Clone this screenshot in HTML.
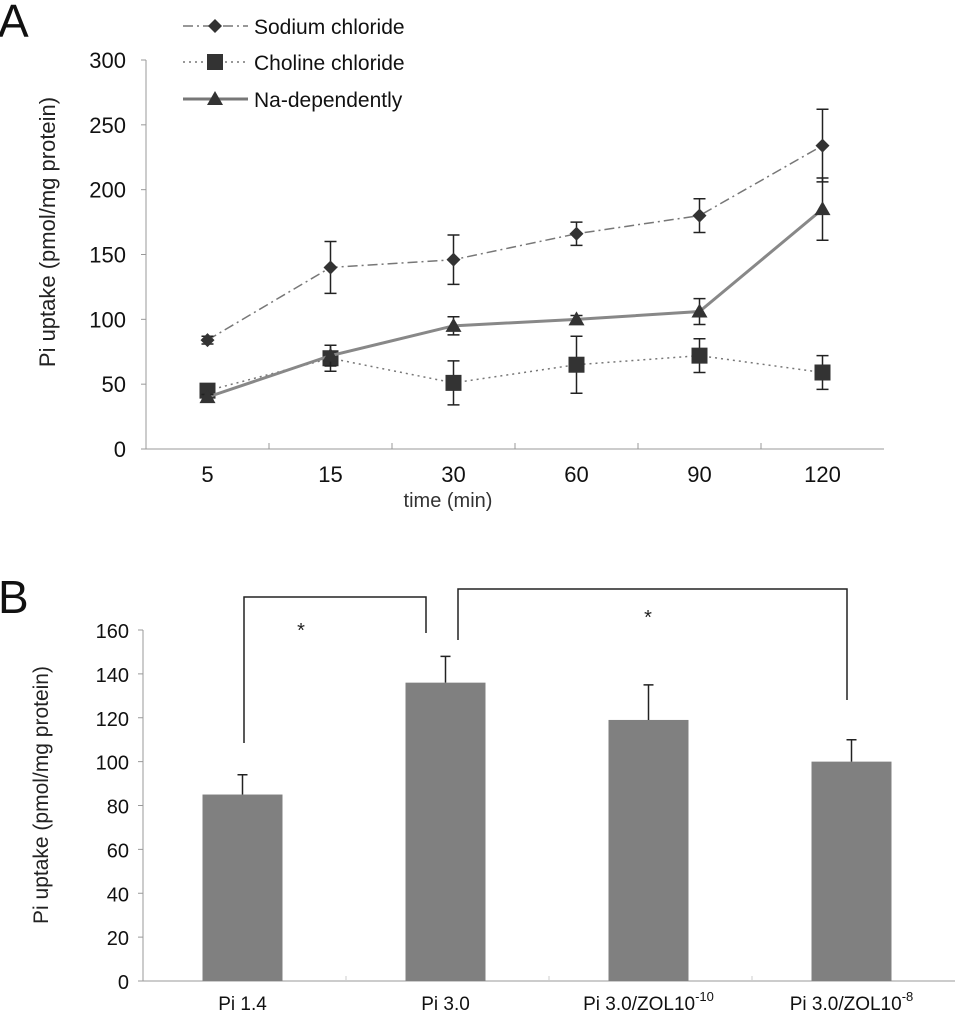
<!DOCTYPE html>
<html><head><meta charset="utf-8"><style>
body{margin:0;background:#fff;}
svg{display:block;font-family:"Liberation Sans",sans-serif;}
</style></head><body>
<svg id="chart" width="955" height="1016" viewBox="0 0 955 1016">
<text x="-2" y="37" font-size="46" fill="#111">A</text>
<text x="-2" y="613" font-size="46" fill="#111">B</text>
<g id="pa"></g>
<g id="pb"></g>
</svg>
<script>
const timeCats=["5","15","30","60","90","120"];
const sodium=[84,140,146,166,180,234];
const sodiumErr=[3,20,19,9,13,28];
const choline=[45,70,51,65,72,59];
const cholineErr=[2,10,17,22,13,13];
const naDep=[40,72,95,100,106,185];
const naDepErr=[2,8,7,3,10,24];
const aTicks=[0,50,100,150,200,250,300];

const barCats=["Pi 1.4","Pi 3.0","Pi 3.0/ZOL10","Pi 3.0/ZOL10"];
const barSup=["","","-10","-8"];
const barVals=[85,136,119,100];
const barErr=[9,12,16,10];
const bTicks=[0,20,40,60,80,100,120,140,160];

const NS="http://www.w3.org/2000/svg";
function mk(parent,tag,attrs){const e=document.createElementNS(NS,tag);for(const k in attrs)e.setAttribute(k,attrs[k]);parent.appendChild(e);return e;}

// Panel A
const pa=document.getElementById('pa');
const aX0=146,aX1=884,aY0=449,aYt=60;
const aStep=(aX1-aX0)/timeCats.length;
const ax=i=>aX0+aStep*(i+0.5);
const ay=v=>aY0-(v/300)*(aY0-aYt);
let l=mk(pa,'line',{x1:aX0,y1:aYt,x2:aX0,y2:aY0,stroke:'#999','stroke-width':1});

l=mk(pa,'line',{x1:aX0,y1:aY0,x2:aX1,y2:aY0,stroke:'#999','stroke-width':1});

aTicks.forEach(t=>{
 mk(pa,'line',{x1:aX0-5,y1:ay(t),x2:aX0,y2:ay(t),stroke:'#999'});
 const tx=mk(pa,'text',{x:aX0-20,y:ay(t)+8,'text-anchor':'end','font-size':22,fill:'#111'});tx.textContent=t;
 
});
for(let i=1;i<timeCats.length;i++)mk(pa,'line',{x1:aX0+aStep*i,y1:aY0,x2:aX0+aStep*i,y2:aY0-6,stroke:'#999'});
timeCats.forEach((c,i)=>{const tx=mk(pa,'text',{x:ax(i),y:482,'text-anchor':'middle','font-size':22,fill:'#111'});tx.textContent=c;
 });
let t=mk(pa,'text',{x:448,y:507,'text-anchor':'middle','font-size':20,fill:'#333'});t.textContent='time  (min)';

t=mk(pa,'text',{x:0,y:0,'text-anchor':'middle','font-size':22,fill:'#222',transform:'translate(55,232) rotate(-90)'});t.textContent='Pi uptake  (pmol/mg protein)';


function marker(g,type,x,y){
 if(type==='d')return mk(g,'polygon',{points:`${x},${y-7} ${x+7},${y} ${x},${y+7} ${x-7},${y}`,fill:'#333'});
 if(type==='s')return mk(g,'rect',{x:x-8,y:y-8,width:16,height:16,fill:'#333'});
 return mk(g,'polygon',{points:`${x},${y-8} ${x+8},${y+6} ${x-8},${y+6}`,fill:'#333'});
}
function series(vals,errs,name,type,dash,color,w){
 const g=mk(pa,'g',{});
 mk(g,'polyline',{points:vals.map((v,i)=>ax(i)+','+ay(v)).join(' '),fill:'none',stroke:color,'stroke-width':w,'stroke-dasharray':dash});
 vals.forEach((v,i)=>{const x=ax(i);const a=ay(v+errs[i]),b=ay(v-errs[i]);
  mk(g,'path',{d:`M${x},${a}V${b}M${x-6},${a}H${x+6}M${x-6},${b}H${x+6}`,stroke:'#222','stroke-width':1.5,fill:'none'});
  const m=marker(g,type,x,ay(v));});
}
series(sodium,sodiumErr,'sodium-chloride-series','d','10,4,2,4','#777',1.5);
series(choline,cholineErr,'choline-chloride-series','s','2,4','#777',1.5);
series(naDep,naDepErr,'na-dependently-series','t','','#888',3);
[['Sodium chloride','d','10,4,2,4',1.5,26],['Choline chloride','s','2,4',1.5,62],['Na-dependently','t','',3,99]].forEach((e,i)=>{
 const g=mk(pa,'g',{});
 mk(g,'line',{x1:183,y1:e[4],x2:248,y2:e[4],stroke:'#777','stroke-width':e[3],'stroke-dasharray':e[2]});
 marker(g,e[1],215,e[4]);
 const tx=mk(g,'text',{x:254,y:e[4]+8,'font-size':21,fill:'#111'});tx.textContent=e[0];
});

// Panel B
const pb=document.getElementById('pb');
const bX0=143,bX1=955,bY0=981,bYt=630;
const bStep=(bX1-bX0)/barCats.length;
const bx=i=>bX0+bStep*(i+0.5)-2;
const by=v=>bY0-(v/160)*(bY0-bYt);
l=mk(pb,'line',{x1:bX0,y1:bYt,x2:bX0,y2:bY0,stroke:'#999'});

l=mk(pb,'line',{x1:bX0,y1:bY0,x2:bX1,y2:bY0,stroke:'#999'});

bTicks.forEach(v=>{mk(pb,'line',{x1:bX0-5,y1:by(v),x2:bX0,y2:by(v),stroke:'#999'});
 const tx=mk(pb,'text',{x:bX0-14,y:by(v)+8,'text-anchor':'end','font-size':20,fill:'#111'});tx.textContent=v;
 });
for(let i=1;i<barCats.length;i++)mk(pb,'line',{x1:bX0+bStep*i,y1:bY0,x2:bX0+bStep*i,y2:bY0-5,stroke:'#ccc'});
barVals.forEach((v,i)=>{
 const r=mk(pb,'rect',{x:bx(i)-40,y:by(v),width:80,height:bY0-by(v),fill:'#808080'});
 
 const e=mk(pb,'path',{d:`M${bx(i)},${by(v)}V${by(v+barErr[i])}M${bx(i)-5},${by(v+barErr[i])}H${bx(i)+5}`,stroke:'#222','stroke-width':1.5,fill:'none'});
 
 const tx=mk(pb,'text',{x:bx(i),y:1010,'text-anchor':'middle','font-size':19,fill:'#111'});
 
 tx.textContent=barCats[i];
 if(barSup[i]){const s=document.createElementNS(NS,'tspan');s.setAttribute('dy','-9');s.setAttribute('font-size','13');s.textContent=barSup[i];tx.appendChild(s);}
});
t=mk(pb,'text',{x:0,y:0,'text-anchor':'middle','font-size':21,fill:'#222',transform:'translate(48,795) rotate(-90)'});t.textContent='Pi uptake (pmol/mg protein)';

let br=mk(pb,'path',{d:'M244,743V597H426V633',stroke:'#222','stroke-width':1.5,fill:'none'});

br=mk(pb,'path',{d:'M458,640V589H847V700',stroke:'#222','stroke-width':1.5,fill:'none'});

t=mk(pb,'text',{x:301,y:637,'text-anchor':'middle','font-size':20,fill:'#222'});t.textContent='*';

t=mk(pb,'text',{x:648,y:624,'text-anchor':'middle','font-size':20,fill:'#222'});t.textContent='*';

</script>
</body></html>
